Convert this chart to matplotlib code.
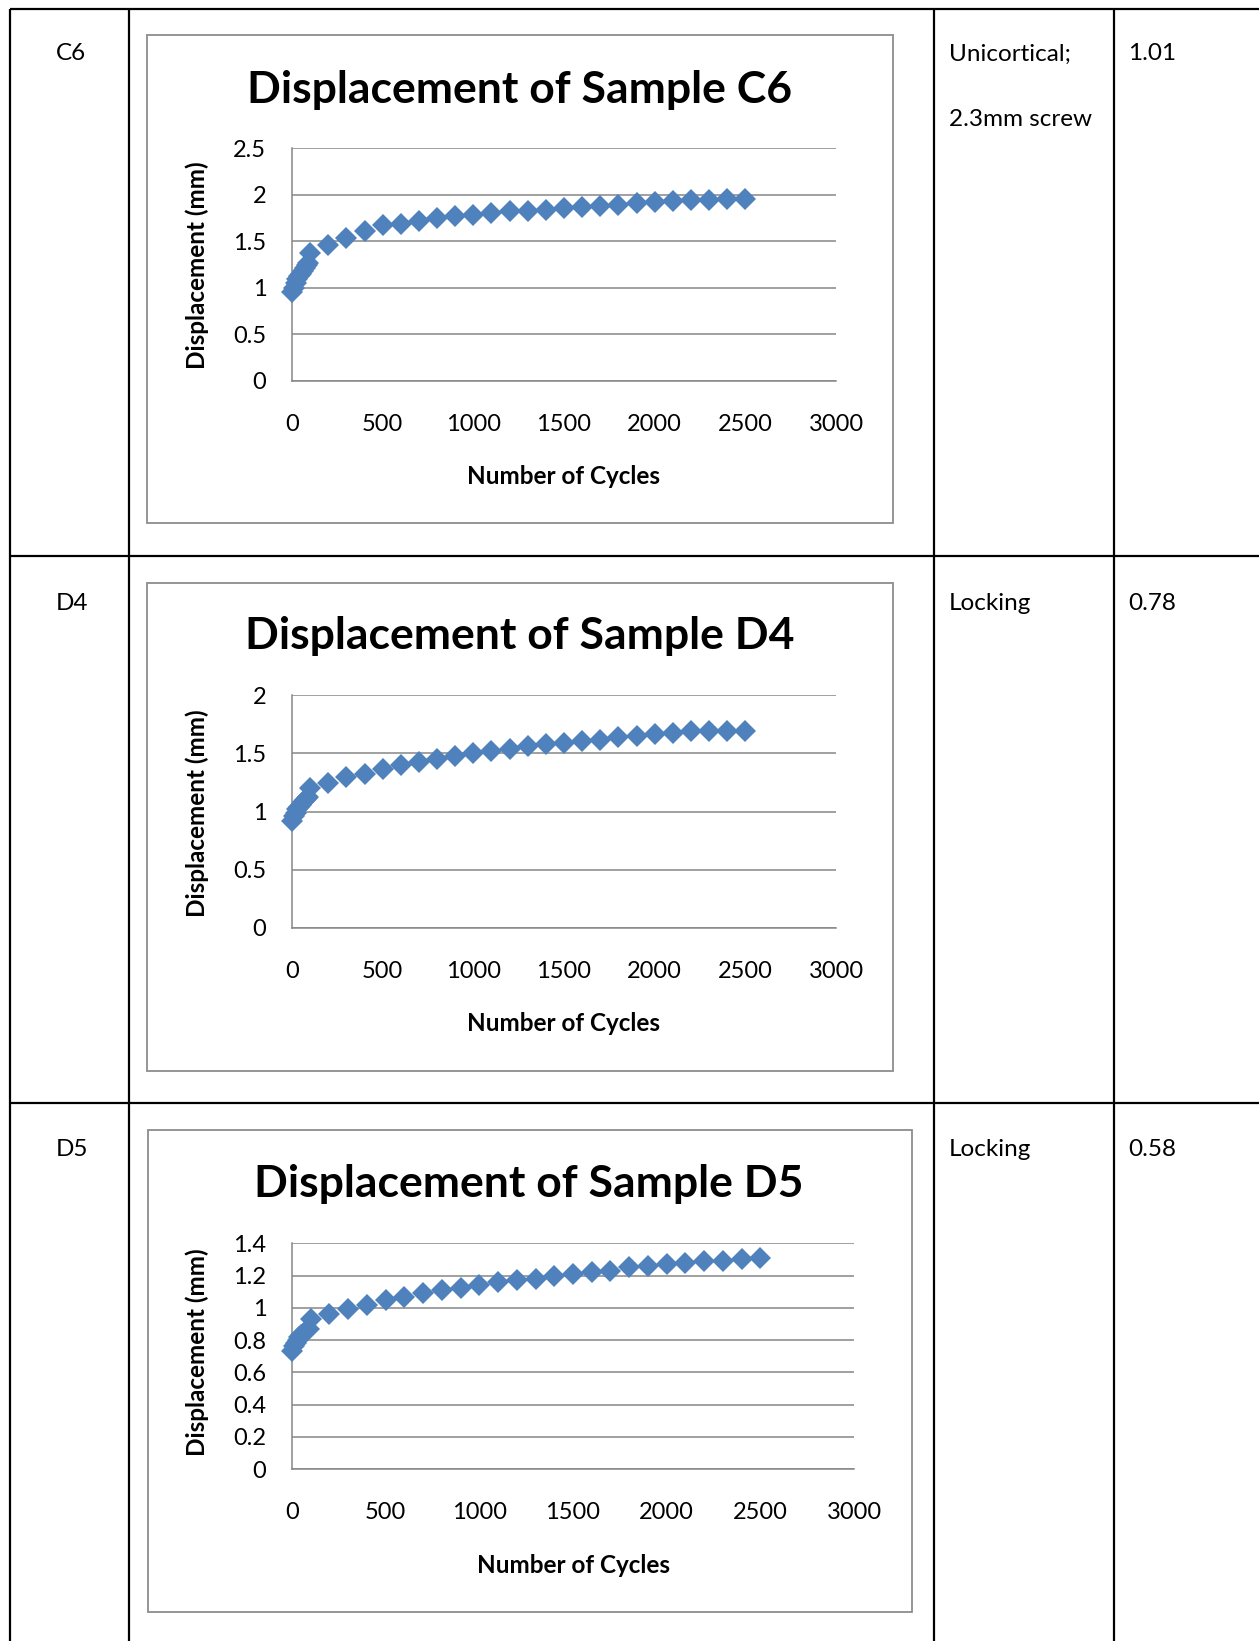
import matplotlib
matplotlib.use('Agg')
import matplotlib.pyplot as plt
from matplotlib.patches import Rectangle
from matplotlib.ticker import FuncFormatter

plt.rcParams['font.family'] = ['Lato', 'DejaVu Sans']

# Data
cycles = [1, 10, 20, 30, 40, 50, 60, 70, 80, 90, 100,
          200, 300, 400, 500, 600, 700, 800, 900, 1000,
          1100, 1200, 1300, 1400, 1500, 1600, 1700, 1800, 1900, 2000,
          2100, 2200, 2300, 2400, 2500]

disp_c6 = [0.95, 1.00, 1.05, 1.09, 1.12, 1.15, 1.18, 1.21, 1.24, 1.26, 1.37,
           1.46, 1.53, 1.61, 1.67, 1.69, 1.72, 1.75, 1.77, 1.78,
           1.80, 1.82, 1.83, 1.84, 1.86, 1.87, 1.88, 1.89, 1.91, 1.92,
           1.93, 1.94, 1.94, 1.95, 1.95]

disp_d4 = [0.92, 0.96, 0.99, 1.02, 1.04, 1.06, 1.08, 1.10, 1.12, 1.13, 1.20,
           1.25, 1.30, 1.32, 1.37, 1.40, 1.43, 1.45, 1.48, 1.50,
           1.52, 1.54, 1.56, 1.58, 1.59, 1.61, 1.62, 1.64, 1.65, 1.67,
           1.68, 1.69, 1.69, 1.69, 1.69]

disp_d5 = [0.73, 0.76, 0.78, 0.80, 0.82, 0.83, 0.84, 0.85, 0.86, 0.87, 0.93,
           0.96, 0.99, 1.02, 1.05, 1.07, 1.09, 1.11, 1.12, 1.14,
           1.16, 1.17, 1.18, 1.20, 1.21, 1.22, 1.23, 1.25, 1.26, 1.27,
           1.28, 1.29, 1.29, 1.30, 1.31]

samples = ['C6', 'D4', 'D5']
screw_type = [['Unicortical;', '2.3mm screw'], ['Locking'], ['Locking']]
row_values = ['1.01', '0.78', '0.58']

x_ticks = [0, 500, 1000, 1500, 2000, 2500, 3000]
y_ticks_c6 = [0, 0.5, 1, 1.5, 2, 2.5]
y_ticks_d4 = [0, 0.5, 1, 1.5, 2]
y_ticks_d5 = [0, 0.2, 0.4, 0.6, 0.8, 1, 1.2, 1.4]

W, H = 1259, 1641
fig = plt.figure(figsize=(W / 100, H / 100), dpi=100)

# background layer in pixel coordinates for table, boxes and texts
bg = fig.add_axes([0, 0, 1, 1], zorder=0)
bg.set_xlim(0, W)
bg.set_ylim(H, 0)
bg.axis('off')

line_kw = dict(color='black', lw=1.6, solid_capstyle='butt')
bg.plot([10, W], [9, 9], **line_kw)
for yy in [556, 1103]:
    bg.plot([10, W], [yy, yy], **line_kw)
for xx in [10, 128.7, 933.7, 1113.7]:
    bg.plot([xx, xx], [9, H], **line_kw)

row_y = [54, 603, 1150]
for i, name in enumerate(samples):
    bg.text(55.5, row_y[i], name, fontsize=17.5, va='center', ha='left')
    for j, t in enumerate(screw_type[i]):
        bg.text(949, row_y[i] + j * 65, t, fontsize=17.5, va='center', ha='left')
    bg.text(1128, row_y[i], row_values[i], fontsize=17.5, va='center', ha='left')

grid_gray = '#868686'
blue = '#4F81BD'

charts = [
    # (sample, values, yticks, box, axes px box, title pos, xlabel pos, ylabel pos)
    ('C6', disp_c6, y_ticks_c6, (147, 35, 893, 523), (292, 148.3, 836, 380.5),
     (520, 90), (564, 476), (197, 265)),
    ('D4', disp_d4, y_ticks_d4, (147, 583, 893, 1070.5), (292, 695.3, 836, 928),
     (520, 636), (564, 1023.5), (197, 813)),
    ('D5', disp_d5, y_ticks_d5, (147.6, 1130, 911.6, 1612), (292, 1243.3, 854, 1469),
     (528.5, 1183.5), (573.5, 1565.7), (197, 1352)),
]

for name, vals, yt, box, axbox, tpos, xlpos, ylpos in charts:
    bx0, by0, bx1, by1 = box
    bg.add_patch(Rectangle((bx0, by0), bx1 - bx0, by1 - by0, fill=False,
                           edgecolor='#8c8c8c', lw=1.3))
    bg.text(tpos[0], tpos[1], 'Displacement of Sample ' + name, fontsize=32,
            fontweight='bold', ha='center', va='center')
    bg.text(xlpos[0], xlpos[1], 'Number of Cycles', fontsize=17.5,
            fontweight='bold', ha='center', va='center')
    bg.text(ylpos[0], ylpos[1], 'Displacement (mm)', fontsize=17.5,
            fontweight='bold', ha='center', va='center', rotation=90)

    x0, y0, x1, y1 = axbox
    ax = fig.add_axes([x0 / W, 1 - y1 / H, (x1 - x0) / W, (y1 - y0) / H], zorder=2)
    ax.patch.set_alpha(0)
    ax.plot(cycles, vals, linestyle='none', marker='D', markersize=11,
            color=blue, markeredgewidth=0, clip_on=False, zorder=3)
    ax.set_xlim(0, 3000)
    ax.set_ylim(0, yt[-1])
    ax.set_xticks(x_ticks)
    ax.set_yticks(yt)
    ax.yaxis.set_major_formatter(FuncFormatter(lambda v, p: '%g' % v))
    ax.yaxis.grid(True, color=grid_gray, lw=1.1)
    ax.set_axisbelow(True)
    for s in ['top', 'right']:
        ax.spines[s].set_visible(False)
    for s in ['left', 'bottom']:
        ax.spines[s].set_color(grid_gray)
        ax.spines[s].set_linewidth(1.1)
    ax.tick_params(axis='both', length=0, labelsize=17)
    ax.tick_params(axis='y', pad=18.5)
    ax.tick_params(axis='x', pad=24)

fig.savefig('out.png', dpi=100)
